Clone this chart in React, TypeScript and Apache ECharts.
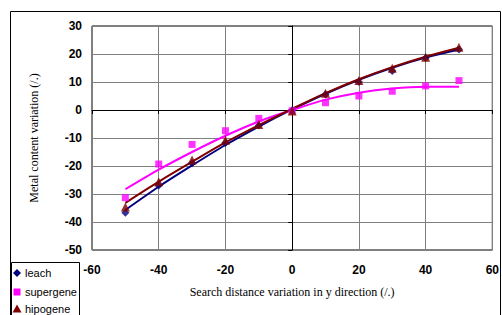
import React, { useEffect, useRef } from "react";
import * as echarts from "echarts";

const xValues = [-50, -40, -30, -20, -10, 0, 10, 20, 30, 40, 50];
const leach = [-36.7, -27, -19, -11.8, -5.5, 0, 5.5, 10, 13.9, 18.6, 21.6];
const supergene = [-31.3, -19.3, -12.3, -7.4, -3, -0.3, 2.6, 5, 6.7, 8.6, 10.5];
const hipogene = [-34.6, -25.6, -17.9, -10.8, -5.2, -0.4, 6, 10.5, 14.9, 18.8, 22.4];

const leachTrend = [-35.7, -27.4, -19.8, -12.5, -5.9, 0.2, 5.8, 10.8, 15.1, 18.7, 21.6];
const supergeneTrend = [-28.3, -21.3, -15, -9.2, -4.1, 0, 3.7, 6.2, 7.7, 8.3, 8.3];
const hipogeneTrend = [-33.2, -25.6, -18.5, -11.6, -5.4, 0.4, 6, 11, 15.3, 19, 22.2];

const seriesNames = ["leach", "supergene", "hipogene"];
const xAxisTitle = "Search distance variation in y direction (/.)";
const yAxisTitle = "Metal content variation (/.)";

const NAVY = "#000080";
const MAGENTA = "#FF00FF";
const DARKRED = "#800000";

const pair = (ys: number[]) => xValues.map((x, i) => [x, ys[i]]);

export default function App() {
  const ref = useRef<HTMLDivElement>(null);
  useEffect(() => {
    if (!ref.current) return;
    const chart = echarts.init(ref.current, null, { renderer: "svg" });
    const labelStyle = {
      color: "#000",
      fontSize: 12,
      fontWeight: "bold" as const,
      fontFamily: "Liberation Sans, Arial, sans-serif",
    };
    const nameStyle = {
      color: "#000",
      fontSize: 12,
      fontFamily: "Liberation Serif, Times New Roman, serif",
    };
    const legendFont = {
      fill: "#000",
      fontSize: 11,
      fontFamily: "Liberation Sans, Arial, sans-serif",
      verticalAlign: "middle" as const,
      align: "left" as const,
    };
    const legendRows = [273, 292, 309];
    chart.setOption({
      animation: false,
      backgroundColor: "#fff",
      grid: {
        left: 92,
        top: 26,
        right: 8,
        bottom: 65,
        show: true,
        borderColor: "#000",
        borderWidth: 1,
      },
      xAxis: {
        type: "value",
        min: -60,
        max: 60,
        interval: 20,
        name: xAxisTitle,
        nameLocation: "middle",
        nameGap: 36,
        nameTextStyle: nameStyle,
        axisLine: { show: true, lineStyle: { color: "#000", width: 1 } },
        axisTick: { show: true, length: 4, inside: false, lineStyle: { color: "#000" } },
        axisLabel: { ...labelStyle, margin: 14 },
        splitLine: { show: true, lineStyle: { color: "#808080", width: 1 } },
      },
      yAxis: {
        type: "value",
        min: -50,
        max: 30,
        interval: 10,
        name: yAxisTitle,
        nameLocation: "middle",
        nameGap: 52,
        nameRotate: 90,
        nameTextStyle: nameStyle,
        axisLine: { show: true, lineStyle: { color: "#000", width: 1 } },
        axisTick: { show: true, length: 4, inside: false, lineStyle: { color: "#000" } },
        axisLabel: { ...labelStyle, margin: 10 },
        splitLine: { show: true, lineStyle: { color: "#808080", width: 1 } },
      },
      graphic: [
        {
          type: "rect",
          shape: { x: 10.5, y: 11.5, width: 490, height: 320 },
          style: { fill: "none", stroke: "#000", lineWidth: 1 },
          silent: true,
          z: -1,
        },
        {
          type: "group",
          silent: true,
          z: 10,
          children: [
            {
              type: "rect",
              shape: { x: 11.5, y: 262.5, width: 68, height: 60 },
              style: { fill: "#fff", stroke: "#000", lineWidth: 1 },
            },
            {
              type: "polygon",
              shape: {
                points: [
                  [17, legendRows[0] - 4],
                  [21, legendRows[0]],
                  [17, legendRows[0] + 4],
                  [13, legendRows[0]],
                ],
              },
              style: { fill: NAVY },
            },
            {
              type: "text",
              x: 25,
              y: legendRows[0],
              style: { ...legendFont, text: seriesNames[0] },
            },
            {
              type: "rect",
              shape: { x: 13.5, y: legendRows[1] - 3.5, width: 7, height: 7 },
              style: { fill: MAGENTA },
            },
            {
              type: "text",
              x: 25,
              y: legendRows[1],
              style: { ...legendFont, text: seriesNames[1] },
            },
            {
              type: "polygon",
              shape: {
                points: [
                  [17, legendRows[2] - 4.5],
                  [21.5, legendRows[2] + 3.5],
                  [12.5, legendRows[2] + 3.5],
                ],
              },
              style: { fill: DARKRED },
            },
            {
              type: "text",
              x: 25,
              y: legendRows[2],
              style: { ...legendFont, text: seriesNames[2] },
            },
          ],
        },
      ],
      series: [
        {
          name: seriesNames[0] + " trend",
          type: "line",
          data: pair(leachTrend),
          smooth: 0.3,
          showSymbol: false,
          lineStyle: { color: NAVY, width: 2 },
          itemStyle: { color: NAVY },
          z: 2,
        },
        {
          name: seriesNames[1] + " trend",
          type: "line",
          data: pair(supergeneTrend),
          smooth: 0.3,
          showSymbol: false,
          lineStyle: { color: MAGENTA, width: 2 },
          itemStyle: { color: MAGENTA },
          z: 2,
        },
        {
          name: seriesNames[2] + " trend",
          type: "line",
          data: pair(hipogeneTrend),
          smooth: 0.3,
          showSymbol: false,
          lineStyle: { color: DARKRED, width: 2 },
          itemStyle: { color: DARKRED },
          z: 2,
        },
        {
          name: seriesNames[0],
          type: "scatter",
          data: pair(leach),
          symbol: "diamond",
          symbolSize: 8,
          itemStyle: { color: NAVY },
          z: 3,
        },
        {
          name: seriesNames[1],
          type: "scatter",
          data: pair(supergene),
          symbol: "rect",
          symbolSize: 7,
          itemStyle: { color: MAGENTA },
          z: 3,
        },
        {
          name: seriesNames[2],
          type: "scatter",
          data: pair(hipogene),
          symbol: "triangle",
          symbolSize: 9,
          itemStyle: { color: DARKRED },
          z: 3,
        },
      ],
    });
    return () => chart.dispose();
  }, []);
  return (
    <div
      ref={ref}
      style={{ position: "fixed", left: 0, top: 0, width: 502, height: 315 }}
    />
  );
}
